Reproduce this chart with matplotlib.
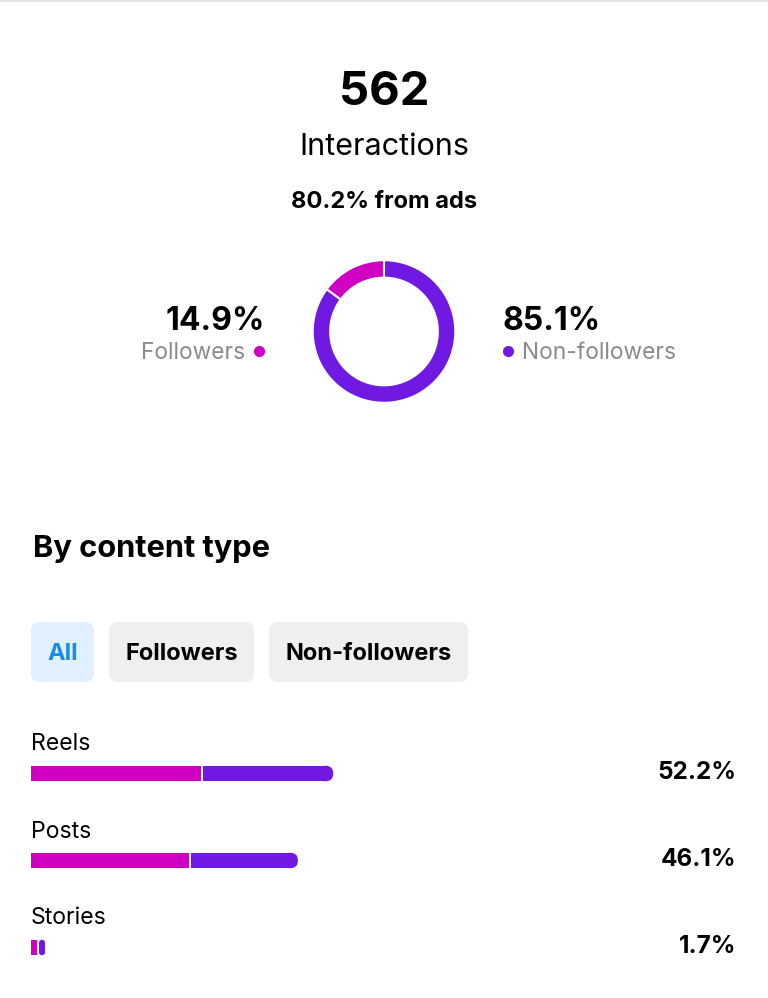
import matplotlib.pyplot as plt
from matplotlib.patches import FancyBboxPatch

plt.rcParams['font.family'] = ['Inter', 'DejaVu Sans']

# data
total_interactions = 562
ads_share = 80.2
audience = ['Followers', 'Non-followers']
audience_share = [14.9, 85.1]

content_types = ['Reels', 'Posts', 'Stories']
followers_part = [29.5, 27.5, 0.9]
non_followers_part = [22.7, 18.6, 0.8]
content_total = [52.2, 46.1, 1.7]

filters = ['All', 'Followers', 'Non-followers']

MAGENTA = '#D000C2'
PURPLE = '#7019E3'
GRAY = '#8a8a8a'

W, H = 768, 998


def main():
	fig = plt.figure(figsize=(W / 100, H / 100), dpi=100)
	ax = fig.add_axes([0, 0, 1, 1])
	ax.set_xlim(0, W)
	ax.set_ylim(H, 0)
	ax.axis('off')
	ax.axhline(1, color='#dddddd', lw=1.2)

	# header
	ax.text(384, 93, str(total_interactions), ha='center', va='center',
			fontsize=34, fontweight='bold')
	ax.text(384, 147, 'Interactions', ha='center', va='center', fontsize=22)
	ax.text(384, 202, f'{ads_share}% from ads', ha='center', va='center',
			fontsize=17, fontweight='bold')

	# donut
	dax = fig.add_axes([312 / W, 1 - 403.5 / H, 144 / W, 144 / H])
	dax.pie(audience_share, colors=[MAGENTA, PURPLE], startangle=90,
			counterclock=True,
			wedgeprops=dict(width=0.245, edgecolor='white', linewidth=1.5))
	dax.set_xlim(-1.01, 1.01)
	dax.set_ylim(-1.01, 1.01)

	ax.text(265, 322, f'{audience_share[0]}%', ha='right', va='center',
			fontsize=23, fontweight='bold')
	ax.text(245, 353, audience[0], ha='right', va='center', fontsize=16.4,
			color=GRAY)
	ax.plot(259, 351, 'o', ms=7, color=MAGENTA)
	ax.text(503, 322, f'{audience_share[1]}%', ha='left', va='center',
			fontsize=23, fontweight='bold')
	ax.text(522, 353, audience[1], ha='left', va='center', fontsize=16.4,
			color=GRAY)
	ax.plot(508, 351, 'o', ms=7, color=PURPLE)

	# section title
	ax.text(33, 549, 'By content type', ha='left', va='center', fontsize=22.2,
			fontweight='bold')

	# filter chips
	chips = [(31, 94), (109, 254), (269, 468)]
	for i, (name, (x0, x1)) in enumerate(zip(filters, chips)):
		bg = '#E0F0FF' if i == 0 else '#EFEFEF'
		fg = '#1A8CE8' if i == 0 else 'black'
		ax.add_patch(FancyBboxPatch((x0, 622), x1 - x0, 60,
									boxstyle='round,pad=0,rounding_size=9',
									fc=bg, ec='none'))
		ax.text((x0 + x1) / 2, 654, name, ha='center', va='center',
				fontsize=17, fontweight='bold', color=fg)

	# content type bars
	bx0, bx1 = 31, 610
	row0, step = 773.5, 87
	top_px, bot_px = 730, 990
	bax = fig.add_axes([bx0 / W, 1 - bot_px / H, (bx1 - bx0) / W,
						(bot_px - top_px) / H])
	bax.set_xlim(0, 100)
	bax.set_ylim((bot_px - row0) / step, (top_px - row0) / step)
	bax.axis('off')
	xpp = 100 / (bx1 - bx0)
	ypp = 1 / step
	bh_px = 15.5
	bh = bh_px * ypp
	gap = 2 * xpp
	r = bh_px / 2 * xpp
	seg_min = 6 * xpp
	asp = ypp / xpp

	for i, (name, f, nf, tot) in enumerate(zip(content_types, followers_part,
											   non_followers_part, content_total)):
		fw = max(f - gap / 2, seg_min)
		bax.barh(i, fw, left=0, height=bh, color=MAGENTA, lw=0)
		start = fw + gap
		end = max(tot, start + seg_min)
		cap_left = max(start, end - 2 * r)
		if cap_left > start:
			bax.barh(i, end - r - start, left=start, height=bh, color=PURPLE,
					 lw=0)
		w = end - cap_left
		rr = min(r, w / 2)
		bax.add_patch(FancyBboxPatch((cap_left, i - bh / 2), w, bh,
									 boxstyle=f'round,pad=0,rounding_size={rr}',
									 mutation_aspect=asp, fc=PURPLE, ec='none',
									 lw=0))
		ax.text(31, row0 + i * step - 29, name, ha='left', va='center',
				fontsize=16.6)
		ax.text(736, row0 + i * step - 1, f'{tot}%', ha='right', va='center',
				fontsize=17.5, fontweight='bold')

	fig.savefig('out.png', dpi=100, facecolor='white')


if __name__ == '__main__':
	main()
